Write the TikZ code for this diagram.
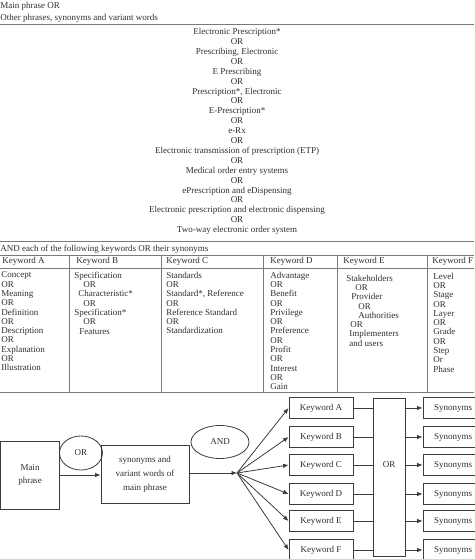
\documentclass[tikz,border=0pt]{standalone}
\usepackage{fontspec}
\setmainfont{Liberation Serif}
\usetikzlibrary{arrows.meta, positioning, shapes.geometric}
\definecolor{cgrey}{HTML}{7A7A7A}
\definecolor{cdark}{HTML}{3C3C3C}
\definecolor{ctext}{HTML}{2E2E2E}
\tikzset{
  every picture/.style={line width=0.8pt},
  rule/.style={draw=cgrey, line width=0.9pt},
  box/.style={draw=cdark, rectangle, align=center, inner sep=2pt},
  oval/.style={draw=cdark, ellipse, inner sep=0pt},
  arrow/.style={-{Latex[length=5.5pt, width=4.5pt]}, draw=cdark},
}

\begin{document}
\begin{tikzpicture}[
    x=1pt, y=-1pt,
    every node/.append style={text=ctext, font=\fontsize{9}{9.9}\selectfont},
    txt/.style={anchor=west, inner sep=0pt},
    cell/.style={anchor=north west, align=left, inner sep=0pt, font=\fontsize{9}{9.3}\selectfont},
    kw/.style={box, minimum width=64pt, minimum height=21pt},
    syn/.style={box, minimum width=60pt, minimum height=21pt},
  ]
  \useasboundingbox (0,0) rectangle (474,559);
  \newcommand{\ind}[1]{\hspace*{#1pt}}

  % top part
  \node[txt] (mp) at (0,6) {Main phrase OR};
  \node[txt] (op) at (0,18) {Other phrases, synonyms and variant words};
  \draw[rule] (0,24) -- (474,24);
  \node[align=center, anchor=north, inner sep=0pt] (list) at (237,28) {Electronic Prescription*\\OR\\Prescribing, Electronic\\OR\\E Prescribing\\OR\\Prescription*, Electronic\\OR\\E-Prescription*\\OR\\e-Rx\\OR\\Electronic transmission of prescription (ETP)\\OR\\Medical order entry systems\\OR\\ePrescription and eDispensing\\OR\\Electronic prescription and electronic dispensing\\OR\\Two-way electronic order system};
  \draw[rule] (0,241) -- (474,241);
  \node[txt] (each) at (0,249) {AND each of the following keywords OR their synonyms};

  % table
  \draw[rule] (0,255) -- (474,255);
  \draw[rule] (0,268) -- (474,268);
  \draw[rule] (0,392) -- (474,392);
  \foreach \x in {69,161,263,337,427} {
    \draw[rule] (\x,255) -- (\x,392);
  }
  \node[txt] (ha) at (2,261.5) {Keyword A};
  \node[txt] (hb) at (76,261.5) {Keyword B};
  \node[txt] (hc) at (166,261.5) {Keyword C};
  \node[txt] (hd) at (270,261.5) {Keyword D};
  \node[txt] (he) at (343,261.5) {Keyword E};
  \node[txt] (hf) at (432,261.5) {Keyword F};
  \node[cell] (ca) at (1,271.5) {Concept\\OR\\Meaning\\OR\\Definition\\OR\\Description\\OR\\Explanation\\OR\\Illustration};
  \node[cell] (cb) at (74,271.5) {Specification\\\ind{9}OR\\\ind{4}Characteristic*\\\ind{9}OR\\Specification*\\\ind{9}OR\\\ind{5}Features};
  \node[cell] (cc) at (166,271.5) {Standards\\OR\\Standard*, Reference\\OR\\Reference Standard\\OR\\Standardization};
  \node[cell] (cd) at (270,271.5) {Advantage\\OR\\Benefit\\OR\\Privilege\\OR\\Preference\\OR\\Profit\\OR\\Interest\\OR\\Gain};
  \node[cell] (ce) at (346,274.5) {Stakeholders\\\ind{9}OR\\\ind{5}Provider\\\ind{12}OR\\\ind{12}Authorities\\\ind{4}OR\\\ind{3}Implementers\\\ind{3}and users};
  \node[cell] (cf) at (433,272.5) {Level\\OR\\Stage\\OR\\Layer\\OR\\Grade\\OR\\Step\\Or\\Phase};

  % flow chart
  \node[box, minimum width=59pt, minimum height=68pt, font=\fontsize{9}{13}\selectfont] (main) at (30,475) {Main\\phrase};
  \node[oval, minimum width=43pt, minimum height=34pt] (orell) at (81,453) {OR};
  \node[box, minimum width=88pt, minimum height=58pt, font=\fontsize{9}{14}\selectfont] (syn) at (145,474) {synonyms and\\variant words of\\main phrase};
  \node[oval, minimum width=58pt, minimum height=33pt] (andell) at (220,442) {AND};
  \coordinate (hub) at (237,473);
  \draw[arrow] (main.east |- 0,475) -- (syn.west |- 0,475);
  \draw[arrow] (syn.east |- hub) -- (hub);

  \node[kw] (ka) at (321,408) {Keyword A};
  \node[kw] (kb) at (321,437) {Keyword B};
  \node[kw] (kc) at (321,465) {Keyword C};
  \node[kw] (kd) at (321,494) {Keyword D};
  \node[kw] (ke) at (321,521) {Keyword E};
  \node[kw] (kf) at (321,550) {Keyword F};
  \node[box, minimum width=32pt, minimum height=158pt] (orbox) at (389,477) {};
  \node (ortxt) at (389,465) {OR};
  \node[syn] (sa) at (453,408) {Synonyms};
  \node[syn] (sb) at (453,437) {Synonyms};
  \node[syn] (sc) at (453,465) {Synonyms};
  \node[syn] (sd) at (453,494) {Synonyms};
  \node[syn] (se) at (453,521) {Synonyms};
  \node[syn] (sf) at (453,550) {Synonyms};

  \foreach \k/\s in {ka/sa, kb/sb, kc/sc, kd/sd, ke/se, kf/sf} {
    \draw[arrow] (hub) -- (\k.west);
    \draw[cdark] (\k.east) -- (\k.east -| orbox.west);
    \draw[arrow] (\k.east -| orbox.east) -- (\s.west);
  }
\end{tikzpicture}
\end{document}
